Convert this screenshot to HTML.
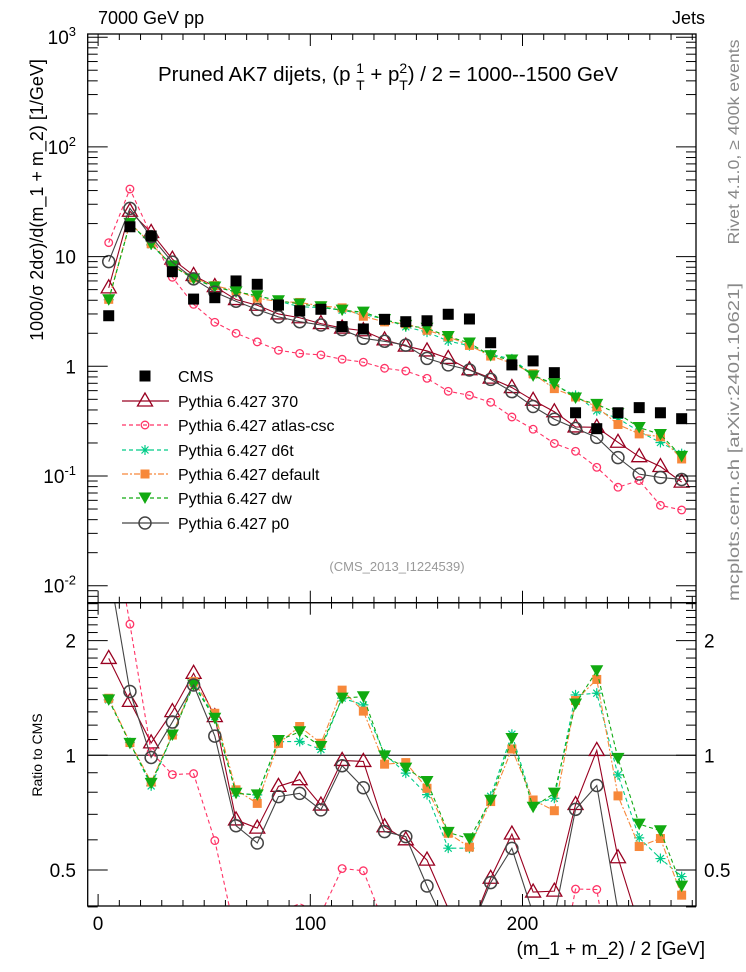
<!DOCTYPE html>
<html><head><meta charset="utf-8"><style>
html,body{margin:0;padding:0;background:#fff;overflow:hidden;width:746px;height:972px}
svg{display:block;font-family:"Liberation Sans",sans-serif}
</style></head><body>
<svg id="c" width="746" height="972" viewBox="0 0 746 972">
<text x="98" y="24" font-size="18">7000 GeV pp</text>
<text x="705" y="24" font-size="18" text-anchor="end">Jets</text>
<text x="388" y="81" font-size="20.5" text-anchor="middle">Pruned AK7 dijets, (p <tspan font-size="14" dy="-8">1</tspan><tspan font-size="14" dx="-8" dy="17">T</tspan><tspan dy="-9"> + p</tspan><tspan font-size="14" dy="-8">2</tspan><tspan font-size="14" dx="-8" dy="17">T</tspan><tspan dy="-9">) / 2 = 1000--1500 GeV</tspan></text>
<text transform="translate(43,200) rotate(-90)" font-size="18" text-anchor="middle">1000/σ   2dσ)/d(m_1 + m_2) [1/GeV]</text>
<text transform="translate(42,755) rotate(-90)" font-size="14" text-anchor="middle">Ratio to CMS</text>
<text x="705" y="955" font-size="19" text-anchor="end">(m_1 + m_2) / 2 [GeV]</text>
<text transform="translate(739,142) rotate(-90)" font-size="16" fill="#888" text-anchor="middle" textLength="205" lengthAdjust="spacingAndGlyphs">Rivet 4.1.0, ≥ 400k events</text>
<text transform="translate(739,442) rotate(-90)" font-size="16" fill="#888" text-anchor="middle" textLength="318" lengthAdjust="spacingAndGlyphs">mcplots.cern.ch [arXiv:2401.10621]</text>
<text x="397" y="571" font-size="13" fill="#999" text-anchor="middle">(CMS_2013_I1224539)</text>
<g id="gm"></g>
<g id="gr"></g>
<g id="ax"></g>
<g id="lg"></g>
</svg>
<script>
const bins=[5,15,25,35,45,55,65,75,85,95,105,115,125,135,145,155,165,175,185,195,205,215,225,235,245,255,265,275];
const cms=[2.89,18.7,15.4,7.28,4.1,4.22,6.0,5.59,3.62,3.21,3.31,2.3,2.19,2.68,2.55,2.6,2.98,2.7,1.64,1.03,1.12,0.875,0.377,0.27,0.377,0.42,0.377,0.333];
const p370=[5.19,25.9,16.6,9.48,6.73,5.33,4.06,3.6,3.0,2.77,2.45,2.23,2.11,1.74,1.53,1.38,1.18,0.93,0.78,0.64,0.49,0.385,0.28,0.278,0.203,0.15,0.122,0.088];
const atlas=[13.4,41.3,15.7,6.48,3.67,2.52,2.0,1.67,1.4,1.31,1.27,1.16,1.09,0.96,0.906,0.777,0.592,0.544,0.47,0.345,0.267,0.198,0.168,0.12,0.079,0.091,0.054,0.049];
const d6t=[4.04,20.2,12.8,8.23,6.33,5.33,4.77,4.4,3.93,3.49,3.43,3.25,2.97,2.7,2.29,2.05,1.7,1.54,1.28,1.17,0.835,0.675,0.543,0.393,0.335,0.255,0.202,0.16];
const dflt=[4.08,20.2,13.1,8.23,6.4,5.44,4.87,4.18,3.89,3.82,3.56,3.41,2.86,2.54,2.44,2.13,1.86,1.55,1.24,1.07,0.855,0.626,0.525,0.427,0.295,0.242,0.228,0.143];
const dw=[4.04,20.1,13.0,8.23,6.27,5.28,4.77,4.4,3.96,3.7,3.49,3.25,3.12,2.67,2.36,2.22,1.87,1.63,1.25,1.14,0.818,0.696,0.514,0.45,0.37,0.277,0.239,0.151];
const p0=[9.0,27.5,15.2,8.9,6.27,4.74,3.92,3.29,2.82,2.55,2.38,2.16,1.8,1.69,1.56,1.18,1.03,0.925,0.76,0.587,0.43,0.329,0.272,0.225,0.147,0.104,0.097,0.093];
const xTicks=[0,100,200];
const yMainTicks=[-2,-1,0,1,2,3];
const yRatioTicks=[0.5,1,2];

const NS='http://www.w3.org/2000/svg';
const xs=v=>98.1+2.122*v;
const ym=v=>366.3-109.7*Math.log10(v);
const yr=r=>755.3-381*Math.log10(r);
const MAIN=[34,602.7],RAT=[602.7,906];
function mk(tag,attrs,parent){const e=document.createElementNS(NS,tag);for(const k in attrs)e.setAttribute(k,attrs[k]);parent.appendChild(e);return e;}
const gm=document.getElementById('gm'),gr=document.getElementById('gr'),ax=document.getElementById('ax'),lg=document.getElementById('lg');

// clip a polyline to a y range; returns list of point lists
function clipY(pts,y0,y1){
  const out=[];let cur=[];
  for(let i=0;i<pts.length-1;i++){
    let [ax1,ay1]=pts[i],[bx,by]=pts[i+1];
    let t0=0,t1=1;const dy=by-ay1;
    if(dy===0){if(ay1<y0||ay1>y1){if(cur.length){out.push(cur);cur=[];}continue;}}
    else{
      let ta=(y0-ay1)/dy,tb=(y1-ay1)/dy;if(ta>tb)[ta,tb]=[tb,ta];
      t0=Math.max(0,ta);t1=Math.min(1,tb);
      if(t0>t1){if(cur.length){out.push(cur);cur=[];}continue;}
    }
    const p=[ax1+(bx-ax1)*t0,ay1+dy*t0],q=[ax1+(bx-ax1)*t1,ay1+dy*t1];
    if(t0>0&&cur.length){out.push(cur);cur=[];}
    if(!cur.length)cur.push(p);
    cur.push(q);
    if(t1<1){out.push(cur);cur=[];}
  }
  if(cur.length)out.push(cur);
  return out;
}

function marker(type,x,y,col,parent){
  let e;
  if(type==='sq'){e=mk('rect',{x:x-5.5,y:y-5.5,width:11,height:11,fill:'#000'},parent);}
  else if(type==='tri'){e=mk('polygon',{points:`${x},${y-8} ${x-7.5},${y+5} ${x+7.5},${y+5}`,fill:'#fff','fill-opacity':0,stroke:col,'stroke-width':1.3},parent);}
  else if(type==='circ'){e=mk('circle',{cx:x,cy:y,r:6,fill:'none',stroke:col,'stroke-width':1.5},parent);}
  else if(type==='scirc'){e=mk('circle',{cx:x,cy:y,r:3.8,fill:'none',stroke:col,'stroke-width':1.3},parent);}
  else if(type==='star'){e=mk('path',{d:`M${x-5},${y}H${x+5}M${x},${y-5}V${y+5}M${x-3.5},${y-3.5}L${x+3.5},${y+3.5}M${x-3.5},${y+3.5}L${x+3.5},${y-3.5}`,stroke:col,'stroke-width':1.2},parent);}
  else if(type==='osq'){e=mk('rect',{x:x-4.5,y:y-4.5,width:9,height:9,fill:col},parent);}
  else if(type==='dtri'){e=mk('polygon',{points:`${x-6.5},${y-5.5} ${x+6.5},${y-5.5} ${x},${y+6}`,fill:col},parent);}
  return e;
}
const series=[
 {name:'Pythia 6.427 370',key:'p370',vals:p370,col:'#990020',dash:'',m:'tri'},
 {name:'Pythia 6.427 atlas-csc',key:'atlas-csc',vals:atlas,col:'#ff3366',dash:'4,3',m:'scirc'},
 {name:'Pythia 6.427 d6t',key:'d6t',vals:d6t,col:'#00cc88',dash:'4,3',m:'star'},
 {name:'Pythia 6.427 default',key:'default',vals:dflt,col:'#f7883a',dash:'6,2,2,2',m:'osq'},
 {name:'Pythia 6.427 dw',key:'dw',vals:dw,col:'#11aa11',dash:'4,3',m:'dtri'},
 {name:'Pythia 6.427 p0',key:'p0',vals:p0,col:'#444444',dash:'',m:'circ'}
];
const one=mk('line',{x1:87.7,x2:696,y1:yr(1),y2:yr(1),stroke:'#000','stroke-width':1},gr);


series.forEach(s=>{
  const pm=bins.map((b,i)=>[xs(b),ym(s.vals[i])]);
  clipY(pm,MAIN[0],MAIN[1]).forEach(seg=>{
    const l=mk('polyline',{points:seg.map(p=>p.join(',')).join(' '),fill:'none',stroke:s.col,'stroke-width':1.1,'stroke-dasharray':s.dash},gm);
    
    
  });
  const pr=bins.map((b,i)=>[xs(b),yr(s.vals[i]/cms[i])]);
  clipY(pr,RAT[0],RAT[1]).forEach(seg=>{
    const lr=mk('polyline',{points:seg.map(p=>p.join(',')).join(' '),fill:'none',stroke:s.col,'stroke-width':1.1,'stroke-dasharray':s.dash},gr);
    
    
  });
  bins.forEach((b,i)=>{
    const y=ym(s.vals[i]);
    if(y>MAIN[0]+4&&y<MAIN[1]-4){
      const e=marker(s.m,xs(b),y,s.col,gm);
      
      
    }
    const y2=yr(s.vals[i]/cms[i]);
    if(y2>RAT[0]+4&&y2<RAT[1]-4){
      const e2=marker(s.m,xs(b),y2,s.col,gr);
      
      
    }
  });
});
bins.forEach((b,i)=>{
  const e=marker('sq',xs(b),ym(cms[i]),'#000',gm);
  
  
});
[MAIN,RAT].forEach((f,k)=>{
  const r=mk('rect',{x:87.7,y:f[0],width:608.3,height:f[1]-f[0],fill:'none',stroke:'#000','stroke-width':1.3},ax);
  
  
  for(let v=0;v<=280;v+=10){
    const major=v%100===0;
    const L=major?12:6;
    mk('line',{x1:xs(v),x2:xs(v),y1:f[1],y2:f[1]-L,stroke:'#000','stroke-width':1},ax);
    mk('line',{x1:xs(v),x2:xs(v),y1:f[0],y2:f[0]+L,stroke:'#000','stroke-width':1},ax);
  }
});
xTicks.forEach(v=>{
  const t=mk('text',{x:xs(v),y:930,'font-size':19,'text-anchor':'middle'},ax);
  t.textContent=v;
  
  
});
for(let d=-3;d<=3;d++){
  for(let m=1;m<=9;m++){
    const v=m*Math.pow(10,d);const y=ym(v);
    if(y<34||y>602.7)continue;
    const L=m===1?20:10;
    mk('line',{x1:87.7,x2:87.7+L,y1:y,y2:y,stroke:'#000','stroke-width':1},ax);
    mk('line',{x1:696,x2:696-L,y1:y,y2:y,stroke:'#000','stroke-width':1},ax);
  }
}
yMainTicks.forEach(d=>{
  const y=ym(Math.pow(10,d));
  const t=mk('text',{x:76,y:y+7,'font-size':19,'text-anchor':'end'},ax);
  
  
  if(d===0)t.textContent='1';
  else if(d===1)t.textContent='10';
  else{t.textContent='10';const s=mk('tspan',{'font-size':13,dy:-8},t);s.textContent=d;}
});
for(let v=0.4;v<2.52;v+=0.1){
  const y=yr(v);const major=[0.5,1,2].some(q=>Math.abs(q-v)<1e-6);
  const L=major?20:10;
  mk('line',{x1:87.7,x2:87.7+L,y1:y,y2:y,stroke:'#000','stroke-width':1},ax);
  mk('line',{x1:696,x2:696-L,y1:y,y2:y,stroke:'#000','stroke-width':1},ax);
}
yRatioTicks.forEach(v=>{
  const t=mk('text',{x:76,y:yr(v)+7,'font-size':19,'text-anchor':'end'},ax);
  t.textContent=v;
  
  
  const t2=mk('text',{x:704,y:yr(v)+7,'font-size':19},ax);
  t2.textContent=v;
  
  
});
const ly=[376,401,425,450,474,498,523];
const e0=marker('sq',145,ly[0],'#000',lg);


const t0=mk('text',{x:178,y:ly[0]+6,'font-size':16},lg);t0.textContent='CMS';


series.forEach((s,i)=>{
  const y=ly[i+1];
  const l=mk('line',{x1:122,x2:169,y1:y,y2:y,stroke:s.col,'stroke-width':1.2,'stroke-dasharray':s.dash},lg);
  
  
  const e=marker(s.m,145,y,s.col,lg);
  
  
  const t=mk('text',{x:178,y:y+6,'font-size':16},lg);t.textContent=s.name;
  
  
});
</script>
</body></html>
